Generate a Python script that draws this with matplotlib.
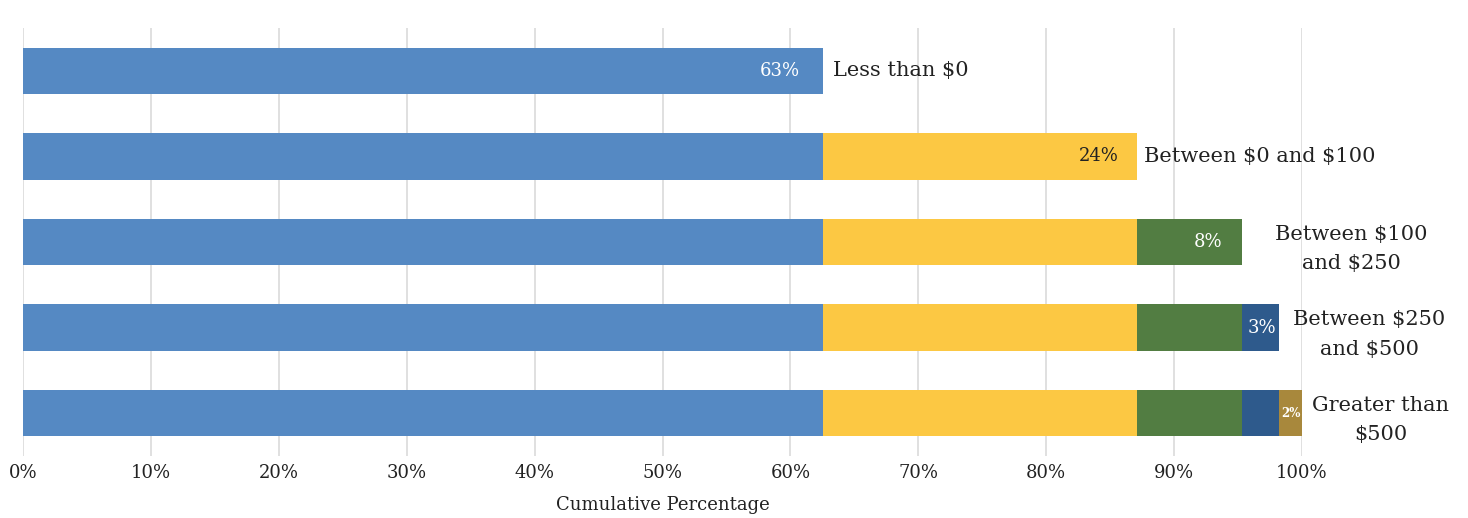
import matplotlib
matplotlib.use("Agg")
import matplotlib.pyplot as plt
import numpy as np

plt.rcParams["text.parse_math"] = False

categories = ["Less than $0", "Between $0 and $100", "Between $100\nand $250",
              "Between $250\nand $500", "Greater than\n$500"]
segments = [62.55, 24.55, 8.2, 2.9, 1.8]
value_labels = ["63%", "24%", "8%", "3%", "2%"]
colors = ["#5589C3", "#FCC843", "#527D42", "#2E5A8C", "#A8883C"]
label_colors = ["white", "#222222", "white", "white", "white"]
xticks = [0, 10, 20, 30, 40, 50, 60, 70, 80, 90, 100]
xtick_labels = [f"{t}%" for t in xticks]

W, H = 1468, 518
fig = plt.figure(figsize=(W / 100, H / 100), dpi=100)
ax = fig.add_axes([23 / W, 1 - 456 / H, (1302 - 23) / W, (456 - 28) / H])
serif = ["DejaVu Serif"]

n = len(categories)
ypos = np.arange(n)
cum = np.cumsum(segments)
for i in range(n):
    left = 0.0
    for j in range(i + 1):
        ax.barh(ypos[i], segments[j], left=left, height=0.54, color=colors[j], zorder=3)
        left += segments[j]

inset_px = [23, 18, 20, 3, None]
cat_offset_px = [10, 7, 33, 14, 10]
for i in range(n):
    end = cum[i]
    if i < 4:
        ax.annotate(value_labels[i], xy=(end, ypos[i]), xytext=(-inset_px[i], 0),
                    textcoords="offset pixels", ha="right", va="center",
                    color=label_colors[i], fontsize=13, family=serif, zorder=5)
    else:
        ax.text(end - segments[i] / 2, ypos[i], value_labels[i], ha="center", va="center",
                color="white", fontsize=8.5, fontweight="bold", family=serif, zorder=5)
    multi = "\n" in categories[i]
    ma = "center" if multi else "left"
    dy = -7 if multi else 0
    ax.annotate(categories[i], xy=(end, ypos[i]), xytext=(cat_offset_px[i], dy),
                textcoords="offset pixels", ha="left", va="center", multialignment=ma,
                color="#222222", fontsize=15, family=serif, linespacing=1.7,
                annotation_clip=False, zorder=5)

ax.set_xlim(0, 100)
ax.set_ylim(n - 0.5, -0.5)
ax.set_xticks(xticks)
ax.set_xticklabels(xtick_labels, family=serif, fontsize=13, color="#222222")
ax.set_yticks([])
ax.tick_params(axis="x", length=0, pad=6)
ax.grid(axis="x", color="#dadada", linewidth=1.2, zorder=0)
for s in ax.spines.values():
    s.set_visible(False)
ax.set_xlabel("Cumulative Percentage", family=serif, fontsize=13, color="#222222", labelpad=10)

fig.savefig("out.png", dpi=100)
